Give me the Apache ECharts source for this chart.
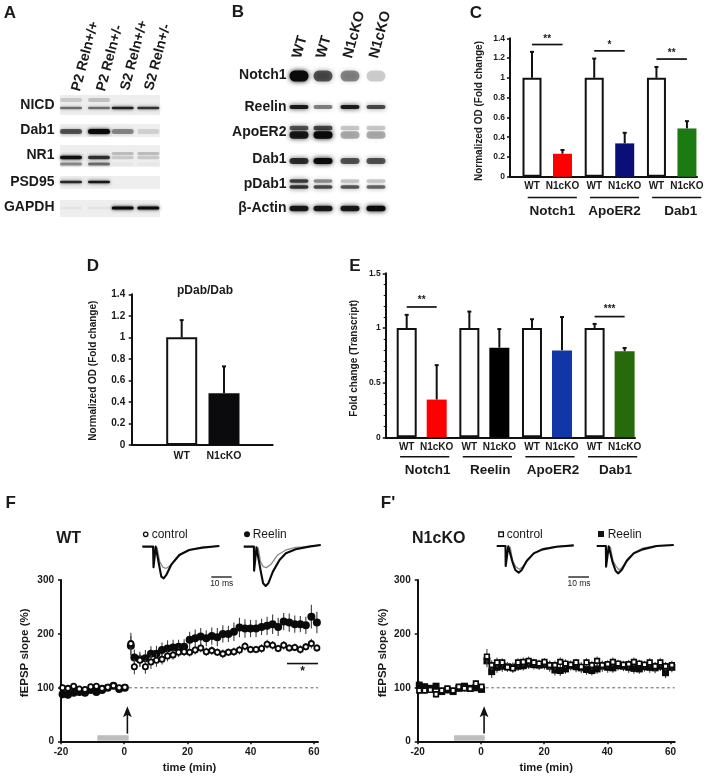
<!DOCTYPE html>
<html><head><meta charset="utf-8">
<style>html,body{margin:0;padding:0;background:#fff}#c{width:708px;height:778px}</style>
<script src="https://cdn.jsdelivr.net/npm/echarts@6/dist/echarts.min.js"></script>
</head><body><div id="c"></div>
<script>
// ---------- values ----------
const wtKo = ['WT','N1cKO'];
// Panel C
const cGroups = ['Notch1','ApoER2','Dab1'];
const cValues = [1,0.232,1,0.337,1,0.488];
const cErrTop = [1.263,0.27,1.195,0.444,1.11,0.562];
const cColors = ['#fff','#ff0000','#fff','#0a0f78','#fff','#1c7a12'];
const cSig = [[0,1.337,'**'],[1,1.273,'*'],[2,1.19,'**']];
// Panel D
const dCats = ['WT','N1cKO'];
const dValues = [1,0.48];
const dErrTop = [1.16,0.73];
const dColors = ['#fff','#0b0b0d'];
// Panel E
const eGroups = ['Notch1','Reelin','ApoER2','Dab1'];
const eValues = [1,0.345,1,0.82,1,0.795,1,0.787];
const eErrTop = [1.12,0.66,1.15,0.99,1.08,1.10,1.037,0.817];
const eColors = ['#fff','#ff0000','#fff','#000','#fff','#1036a8','#fff','#266a0c'];
const eSig = [[0,1.192,'**'],[3,1.104,'***']];
// Panels F, F' : time
const fPreT = [-19.5,-17.8,-16,-14.2,-12.4,-10.6,-8.8,-7,-5.2,-3.4,-1.6,0.2];
const fPostT = [2.1,3.2,4.95,6.7,8.45,10.2,11.95,13.7,15.45,17.2,18.95,20.7,22.45,24.2,25.95,27.7,29.45,31.2,32.95,34.7,36.45,38.2,39.95,41.7,43.45,45.2,46.95,48.7,50.45,52.2,53.95,55.7,57.45,59.2,60.95];
const wtOpen = [100,99,103,98,97,102,103,99,101,104,100,101, 182,139,151,139,148,151,153,159,161,166,167,166,170,174,167,169,166,163,166,167,170,177,171,171,173,181,179,173,179,174,175,171,176,182,174];
const wtOpenErr = [6,5,5,5,6,5,5,5,6,6,5,5, 20,14,12,13,13,12,10,10,9,9,8,8,8,8,8,8,7,8,7,8,8,8,7,7,8,8,8,7,8,7,7,8,7,9,7];
const wtFilled = [88,87,91,92,91,96,92,96,100,104,98,100, 178,156,153,155,163,163,170,173,175,176,176,189,192,195,192,196,194,200,200,204,212,210,210,210,213,215,218,213,223,221,218,218,216,232,221];
const wtFilledErr = [7,7,6,6,6,5,6,5,6,5,6,5, 18,15,14,15,14,15,14,15,14,13,14,15,16,16,15,16,17,16,15,17,18,17,16,16,15,17,18,17,16,17,16,15,16,22,20];
const koOpenT = [1.9,3.4,5.1,6.75,8.4,10.1,11.75,13.4,15.1,16.75,18.4,20.1,21.75,23.4,25.1,26.75,28.4,30.1,31.75,33.4,35.1,36.75,38.4,40.1,41.75,43.4,45.1,46.75,48.4,50.1,51.75,53.4,55.1,56.75,58.4,60.4];
const koOpen = [95,95,96,88,95,99,95,102,99,98,108,102, 158,142,147,147,138,136,147,148,150,147,145,148,142,142,148,145,143,147,139,147,142,150,142,144,148,145,143,144,148,145,143,147,140,147,140,142];
const koOpenErr = [6,6,5,6,5,5,5,5,6,5,6,5, 14,9,9,8,8,8,8,8,8,7,7,7,8,8,8,8,7,7,8,8,8,8,8,7,8,7,7,8,8,7,7,8,8,8,8,8];
const koFilled = [105,102,99,103,93,96,93,99,103,99,100,97, 150,130,138,140,139,138,140,141,144,143,142,143,140,133,132,135,141,139,137,134,132,135,140,138,137,141,140,138,136,135,139,138,137,140,128,138];
const koFilledErr = [7,6,6,6,6,6,5,6,5,6,5,5, 12,12,10,10,9,9,9,9,9,9,9,9,10,10,10,9,9,10,10,10,9,9,10,10,9,9,9,10,10,9,9,10,10,9,10,9];
const xTicksF = [-20,0,20,40,60];
// Evoked traces (ms, mV-like units)
const fCtlBlack = [[0,0],[5.4,0],[5.6,-.62],[6.4,-.62],[6.7,0],[7.4,-.02],[8.4,-.55],[9.5,-.9],[10.7,-.95],[12,-.85],[14.4,-.55],[18.5,-.25],[23.4,-.1],[30,-.03],[38.5,.02]];
const fCtlGrey = [[7.4,-.02],[8.7,-.45],[10.3,-.62],[12,-.65],[14.4,-.55],[16.9,-.35],[20.2,-.2],[23.4,-.1],[30,-.02],[38.5,.02]];
const fReeBlack = [[0,0],[5.1,0],[5.2,-.72],[5.9,-.72],[6.4,-.02],[7.2,-.02],[8.4,-.7],[9.7,-1.1],[11,-1.18],[12.3,-1.1],[14.6,-.75],[17.9,-.4],[21.1,-.2],[26,-.08],[32.6,0],[38.5,.05]];
const fReeGrey = [[7.2,-.02],[8.4,-.45],[9.7,-.6],[11.4,-.63],[13.8,-.52],[17,-.25],[21.1,-.1],[26,-.02],[32.6,0],[38.5,.05]];
const kCtlBlack = [[0,0],[4.4,0],[4.5,-.6],[5.3,-.6],[5.8,-.01],[6.7,-.02],[8,-.5],[9.3,-.72],[11,-.8],[12.5,-.72],[15,-.45],[18.5,-.22],[23,-.1],[30,-.02],[38.5,.02]];
const kCtlGrey = [[6.7,-.02],[8,-.45],[9.5,-.62],[11.3,-.7],[13,-.62],[15.5,-.4],[19,-.2],[23,-.08],[30,-.01],[38.5,.02]];
const kReeBlack = [[0,0],[4.6,0],[4.7,-.62],[5.6,-.62],[6,-.01],[6.8,-.02],[8,-.5],[9.5,-.75],[10.8,-.82],[12.5,-.72],[15,-.45],[18.5,-.22],[23,-.1],[30,0],[38.5,.03]];
const kReeGrey = [[6.8,-.02],[8.2,-.45],[9.8,-.62],[11.3,-.72],[13,-.62],[15.5,-.38],[19,-.18],[23,-.06],[30,.01],[38.5,.03]];
// Blot A band darkness per lane
const aRows = ['NICD','Dab1','NR1','PSD95','GAPDH'];
const aLanes = ['P2 Reln+/+','P2 Reln+/-','S2 Reln+/+','S2 Reln+/-'];
const aNicd = [.5,.5,.85,.75];
const aNicdUp = [.15,.18,0,0];
const aDab1 = [.6,1,.4,.12];
const aNr1 = [.95,.75,.15,.15];
const aNr1Low = [.4,.5,.03,.03];
const aPsd = [.8,.9,0,0];
const aGapdh = [.04,.04,1,1];
// Blot B band darkness per lane
const bRows = ['Notch1','Reelin','ApoER2','Dab1','pDab1','β-Actin'];
const bLanes = ['WT','WT','N1cKO','N1cKO'];
const bNotch = [.95,.6,.42,.18];
const bReelin = [.85,.45,.85,.65];
const bApoUp = [.6,.65,.2,.2];
const bApoLow = [.85,.95,.3,.3];
const bDab1 = [.75,.95,.6,.6];
const bPdabUp = [.7,.4,.2,.2];
const bPdabLow = [.75,.65,.6,.55];
const bActin = [.85,.85,.85,.95];

// ---------- layout ----------
const FF = '"Liberation Sans", Arial, sans-serif';
const TXT = '#1a1a1a';
const aRowY = [105,130,155,182,207];
const bRowY = [75,107,132,159,184,208];
const aBands = [[aRowY[0],3,2.5,aNicd],[aRowY[0],-5,4,aNicdUp],[aRowY[1],1.5,5,aDab1],[aRowY[2],2.5,3.5,aNr1],[aRowY[2],9,3,aNr1Low],[aRowY[2],-1.5,3,aNr1.map(v=>v<.3?.2:0)],[aRowY[3],0,2.5,aPsd],[aRowY[4],1,3,aGapdh]];
const aBack = [[95,115],[124,137],[145,167],[176,189],[200,217]];
const bBands = [[bRowY[0],1,11,bNotch],[bRowY[1],0,4,bReelin],[bRowY[2],-4,4.5,bApoUp],[bRowY[2],3,7.5,bApoLow],[bRowY[3],2,6,bDab1],[bRowY[4],-3,3.5,bPdabUp],[bRowY[4],3,3.5,bPdabLow],[bRowY[5],0.5,5.5,bActin]];

const grids = [
 {left:510,top:38.3,width:187,height:138.4},   // C
 {left:131.7,top:294.3,width:141,height:150.7},// D
 {left:385.7,top:273.3,width:249.3,height:164},// E
 {left:61,top:580,width:257,height:161.7},     // F
 {left:417.7,top:580,width:257,height:161.7},  // F'
 {left:60,top:90,width:100,height:130},        // blot A
 {left:288,top:60,width:100,height:160},       // blot B
 {left:142.3,top:543.3,width:78.3,height:53.3},// inset
 {left:243.7,top:543.3,width:78.3,height:53.3},
 {left:496.7,top:542.7,width:78.3,height:53.3},
 {left:596.7,top:542.7,width:78.3,height:53.3},
];
const AX = {color:'#111',width:2};
const pitchC = 30.5, pitchE = 30, pitchD = 42.3;
const cX = i => Math.floor(i/2)*2.04 + i%2;
const eX = i => Math.floor(i/2)*2.088 + i%2;
const cTicks = cValues.map((_,i)=>cX(i));
const eTicks = eValues.map((_,i)=>eX(i));

function barXAxis(g,min,max,ticks,names,fs,margin){
  return {gridIndex:g,type:'value',min,max,
    axisLine:{onZero:false,lineStyle:AX},axisTick:{show:false},splitLine:{show:false},
    axisLabel:{customValues:ticks,formatter:v=>names[ticks.indexOf(v)],fontSize:fs,fontWeight:'bold',color:TXT,margin:margin,fontFamily:FF,hideOverlap:false}};
}
function barYAxis(g,max,interval,fs,name,pad,gap,extra,margin){
  return Object.assign({gridIndex:g,type:'value',min:0,max,interval,
    name,nameLocation:'middle',nameGap:gap,nameRotate:90,
    nameTextStyle:{fontSize:10,fontWeight:'bold',color:TXT,padding:pad,fontFamily:FF},
    axisLine:{show:true,onZero:false,lineStyle:AX},axisTick:{show:true,length:3,lineStyle:{color:'#111',width:1.5}},splitLine:{show:false},
    axisLabel:{fontSize:fs,fontWeight:'bold',color:TXT,margin:margin,fontFamily:FF,formatter:v=>String(v)}},extra||{});
}
function fX(g,name){
  return {gridIndex:g,type:'value',min:-20,max:61.3,name,nameLocation:'middle',nameGap:21,
    nameTextStyle:{fontSize:11.2,fontWeight:'bold',color:TXT,fontFamily:FF},
    axisLine:{onZero:false,lineStyle:AX},axisTick:{show:true,customValues:xTicksF,length:2.5,lineStyle:{color:'#111',width:1.5}},splitLine:{show:false},
    axisLabel:{customValues:xTicksF,fontSize:10,fontWeight:'bold',color:TXT,margin:6,fontFamily:FF}};
}
function fY(g,gap){
  return {gridIndex:g,type:'value',min:0,max:300,interval:100,name:'fEPSP slope (%)',nameLocation:'middle',nameGap:gap,nameRotate:90,
    nameTextStyle:{fontSize:11.5,fontWeight:'bold',color:TXT,padding:[0,0,0,16],fontFamily:FF},
    axisLine:{show:true,onZero:false,lineStyle:AX},axisTick:{show:true,length:3,lineStyle:{color:'#111',width:1.5}},splitLine:{show:false},
    axisLabel:{fontSize:10,fontWeight:'bold',color:TXT,margin:7,fontFamily:FF}};
}
function hidden(g,min,max,inverse){return {gridIndex:g,type:'value',min,max,inverse:!!inverse,show:false,splitLine:{show:false}};}
function blotY(g,rowY,names,h,margin){
  return {gridIndex:g,type:'value',min:grids[g].top,max:grids[g].top+h,inverse:true,
    axisLine:{show:false,onZero:false},axisTick:{show:false},splitLine:{show:false},
    axisLabel:{customValues:rowY,formatter:v=>names[rowY.indexOf(v)],fontSize:14,fontWeight:'bold',color:TXT,margin,fontFamily:FF}};
}

const xAxes = [
  barXAxis(0,(510-532)/pitchC,(697-532)/pitchC,cTicks,cValues.map((_,i)=>wtKo[i%2]),10,5),
  barXAxis(1,(131.7-181.7)/pitchD,(272.7-181.7)/pitchD,[0,1],dCats,10.5,6),
  barXAxis(2,(385.7-406.7)/pitchE,(635-406.7)/pitchE,eTicks,eValues.map((_,i)=>wtKo[i%2]),10,4.5),
  fX(3,'time (min)'),fX(4,'time (min)'),
  hidden(5,60,160),hidden(6,288,388),
  hidden(7,0,39.15),hidden(8,0,39.15),hidden(9,0,39.15),hidden(10,0,39.15)
];
const yAxes = [
  barYAxis(0,1.4,0.2,8.5,'Normalized OD (Fold change)',[0,7,0,0],26,null,5),
  barYAxis(1,1.4,0.2,10,'Normalized OD (Fold change)',[0,2,0,0],33,null,6.5),
  barYAxis(2,1.5,0.5,8.5,'Fold change (Transcript)',[0,6,0,0],26,{minorTick:{show:true,splitNumber:5,length:2,lineStyle:{color:'#111',width:1}}},5),
  fY(3,30),fY(4,29),
  blotY(5,aRowY,aRows,130,5.5),
  blotY(6,bRowY,bRows,160,1.5),
  hidden(7,-1.5,0.1),hidden(8,-1.5,0.1),hidden(9,-1.5,0.1),hidden(10,-1.5,0.1)
];

// ---------- series helpers ----------
function bars(g,xs,vals,cols,w){
  return {type:'bar',xAxisIndex:g,yAxisIndex:g,barWidth:w,z:2,silent:true,
    data:vals.map((v,i)=>({value:[xs[i],v],itemStyle:{color:cols[i],borderColor:cols[i]==='#fff'?'#111':cols[i],borderWidth:cols[i]==='#fff'?2:0}}))};
}
function errTops(g,xs,vals,tops){
  return {type:'custom',xAxisIndex:g,yAxisIndex:g,z:1,silent:true,clip:false,
    data:vals.map((v,i)=>[xs[i],v,tops[i]]),
    renderItem(p,api){
      const a=api.coord([api.value(0),api.value(1)]),b=api.coord([api.value(0),api.value(2)]);
      const st={stroke:'#111',lineWidth:2};
      return {type:'group',children:[
        {type:'line',shape:{x1:a[0],y1:a[1],x2:b[0],y2:b[1]},style:st},
        {type:'line',shape:{x1:b[0]-2,y1:b[1],x2:b[0]+2,y2:b[1]},style:st}]};
    }};
}
// rows: [x0,x1,y,text,textDy,lineOpts,fontSize,textDx]
function rules(g,rows,z){
  return {type:'custom',xAxisIndex:g,yAxisIndex:g,z:z||5,silent:true,clip:false,
    data:rows.map(r=>[r[0],r[2]]),
    renderItem(p,api){
      const r=rows[p.dataIndex];
      const a=api.coord([r[0],r[2]]),b=api.coord([r[1],r[2]]);
      const ch=[{type:'line',shape:{x1:a[0],y1:a[1],x2:b[0],y2:b[1]},style:Object.assign({stroke:'#111',lineWidth:1.7},r[5]||{})}];
      if(r[3]) ch.push({type:'text',style:{text:r[3],x:(a[0]+b[0])/2+(r[7]||0),y:a[1]+r[4],align:'center',verticalAlign:'middle',fill:TXT,fontFamily:FF,fontWeight:'bold',fontSize:(r[6]||10)}});
      return {type:'group',children:ch};
    }};
}
function timeScatter(g,ts,vals,symbol,size,fill,z,bw){
  return {type:'scatter',xAxisIndex:g,yAxisIndex:g,symbol,symbolSize:size,z,silent:true,clip:false,
    itemStyle:{color:fill,borderColor:'#0a0a0a',borderWidth:bw,opacity:1},
    data:vals.map((v,i)=>[ts[i],v])};
}
function timeErr(g,ts,vals,errs,z,col){
  return {type:'custom',xAxisIndex:g,yAxisIndex:g,z,silent:true,clip:false,
    data:vals.map((v,i)=>[ts[i],v-errs[i],v+errs[i]]),
    renderItem(p,api){
      const a=api.coord([api.value(0),api.value(1)]),b=api.coord([api.value(0),api.value(2)]);
      return {type:'line',shape:{x1:a[0],y1:a[1],x2:b[0],y2:b[1]},style:{stroke:col,lineWidth:1.1}};
    }};
}
function stimArrow(g,barFrom,barTo,barTop,arrowT,arrowFrom,arrowTo){
  return {type:'custom',xAxisIndex:g,yAxisIndex:g,z:4,silent:true,clip:false,data:[[arrowT,arrowFrom]],
    renderItem(p,api){
      const a=api.coord([barFrom,barTop]),b=api.coord([barTo,0]);
      const s=api.coord([arrowT,arrowFrom]),t=api.coord([arrowT,arrowTo]);
      return {type:'group',children:[
        {type:'rect',shape:{x:a[0],y:a[1],width:b[0]-a[0],height:b[1]-a[1]-1},style:{fill:'#bdbdbd'}},
        {type:'line',shape:{x1:s[0],y1:s[1],x2:t[0],y2:t[1]+6},style:{stroke:'#111',lineWidth:1.6}},
        {type:'polygon',shape:{points:[[t[0],t[1]],[t[0]+4.4,t[1]+11],[t[0],t[1]+8.5],[t[0]-4.4,t[1]+11]]},style:{fill:'#111'}}]};
    }};
}
function blot(g,lanesX,bands,backs,laneW,blur,gain){
  const items=[];
  (backs||[]).forEach(b=>items.push({y0:b[0],y1:b[1]}));
  bands.forEach(b=>b[3].forEach((s,i)=>{ if(s>0) items.push({lane:lanesX[i],y:b[0]+b[1],h:b[2],s}); }));
  return {type:'custom',xAxisIndex:g,yAxisIndex:g,z:2,silent:true,clip:false,
    data:items.map(it=>[it.lane||60,it.y||it.y0]),
    renderItem(p,api){
      const it=items[p.dataIndex];
      if(it.y0!==undefined){
        const a=api.coord([60,it.y0]),b=api.coord([160,it.y1]);
        return {type:'rect',z2:0,shape:{x:a[0],y:a[1],width:b[0]-a[0],height:b[1]-a[1]},style:{fill:'#eeeeee'}};
      }
      const c=api.coord([it.lane,it.y]);
      const alpha=Math.min(1,it.s*gain);
      return {type:'rect',z2:5,shape:{x:c[0]-laneW/2,y:c[1]-it.h/2,width:laneW,height:it.h,r:it.h/2},
        style:{fill:'rgba(10,10,10,'+alpha+')',shadowBlur:blur,shadowColor:'rgba(10,10,10,'+alpha+')'}};
    }};
}
function trace(g,data,col,w,z){
  return {type:'line',xAxisIndex:g,yAxisIndex:g,data,showSymbol:false,symbol:'none',silent:true,z,clip:false,
    lineStyle:{color:col,width:w,join:'round'}};
}

// ---------- series ----------
const groupLine = {lineWidth:1.5};
const series = [
  blot(5,[71,99,122.7,148.3],aBands,aBack,22,3.5,1),
  blot(6,[299,323,350,376],bBands,[],19,5,1.05),
  // C
  bars(0,cTicks,cValues,cColors,19), errTops(0,cTicks,cValues,cErrTop),
  rules(0,cSig.map(s=>[cX(s[0]*2),cX(s[0]*2+1),s[1],s[2],-5.5,null,10])
    .concat(cGroups.map((n,g)=>[cX(g*2)-0.14,cX(g*2)+1.47,-0.21,n,14,groupLine,13.5,g===2?4:0]))),
  // D
  bars(1,[0,1],dValues,dColors,31), errTops(1,[0,1],dValues,dErrTop),
  // E
  bars(2,eTicks,eValues,eColors,20), errTops(2,eTicks,eValues,eErrTop),
  rules(2,eSig.map(s=>[eX(s[0]*2),eX(s[0]*2+1),s[1],s[2],-7,null,10])
    .concat(eGroups.map((n,g)=>[eX(g*2)-0.22,eX(g*2)+1.42,-0.177,n,14,groupLine,13.5,3]))),
  // F
  stimArrow(3,-8.5,1.4,12,1,15,66),
  rules(3,[[1.5,61.3,100,'',0,{stroke:'#666',lineWidth:1,lineDash:[3,2.5]}],[51.5,61.3,145,'*',8,{lineWidth:1.6},12]],2),
  timeErr(3,fPreT.concat(fPostT),wtFilled,wtFilledErr,3,'#3a3f3a'),
  timeScatter(3,fPreT.concat(fPostT),wtFilled,'circle',8,'#0a0a0a',4,0),
  timeErr(3,fPreT.concat(fPostT),wtOpen,wtOpenErr,5,'#444'),
  timeScatter(3,fPreT.concat(fPostT),wtOpen,'circle',5.2,'#fff',6,1.8),
  // F'
  stimArrow(4,-8.5,1.2,12,1,15,66),
  rules(4,[[1.5,61.3,100,'',0,{stroke:'#666',lineWidth:1,lineDash:[3,2.5]}]],2),
  timeErr(4,fPreT.concat(koOpenT),koFilled,koFilledErr,3,'#3a3f3a'),
  timeScatter(4,fPreT.concat(koOpenT),koFilled,'rect',7,'#0a0a0a',4,0),
  timeErr(4,fPreT.concat(koOpenT),koOpen,koOpenErr,5,'#444'),
  timeScatter(4,fPreT.concat(koOpenT),koOpen,'rect',4.6,'#fff',6,1.7),
  // traces
  trace(7,fCtlGrey,'#8a8a8a',1.3,3),trace(7,fCtlBlack,'#0a0a0a',2.1,4),
  trace(8,fReeGrey,'#8a8a8a',1.3,3),trace(8,fReeBlack,'#0a0a0a',2.1,4),
  trace(9,kCtlGrey,'#8a8a8a',1.3,3),trace(9,kCtlBlack,'#0a0a0a',2.1,4),
  trace(10,kReeGrey,'#8a8a8a',1.3,3),trace(10,kReeBlack,'#0a0a0a',2.1,4),
];

// ---------- text / decoration ----------
const T=(text,x,y,size,opt)=>Object.assign({type:'text',x,y,silent:true,style:Object.assign({text,fontFamily:FF,fontSize:size,fontWeight:'bold',fill:TXT,align:'center',verticalAlign:'middle'},opt||{})},{});
function rotT(text,x,y,size,deg,style){
  return {type:'text',x,y,rotation:deg*Math.PI/180,silent:true,style:Object.assign({text,fontFamily:FF,fontSize:size,fontWeight:'bold',fill:TXT,align:'left',verticalAlign:'middle'},style||{})};
}
const line=(x1,x2,y)=>({type:'line',silent:true,shape:{x1,y1:y,x2,y2:y},style:{stroke:'#111',lineWidth:1.3}});
const graphics=[
  T('A',10,13,17),T('B',238,12,17),T('C',476,13,17),T('D',93,266,17),T('E',355,266,17),T('F',10.7,503,17),T("F'",388,503,17),
  T('pDab/Dab',205,291,12),
  T('WT',68.7,539,16),T('N1cKO',438.7,539,16),
  ...[[76,91],[101,91],[125,90],[149,90]].map((p,i)=>rotT(aLanes[i],p[0],p[1],14,75)),
  ...[[297,58],[321,58],[348,58],[374,58]].map((p,i)=>rotT(bLanes[i],p[0],p[1],14.5,75)),
  // legends
  {type:'circle',silent:true,shape:{cx:145.7,cy:534.3,r:2.2},style:{fill:'#fff',stroke:'#111',lineWidth:1.3}},
  T('control',151.7,534.3,12,{align:'left',fontWeight:'normal'}),
  {type:'circle',silent:true,shape:{cx:247,cy:534.3,r:3},style:{fill:'#111'}},
  T('Reelin',252.7,534.3,12,{align:'left',fontWeight:'normal'}),
  {type:'rect',silent:true,shape:{x:498.8,y:532,width:4.6,height:4.6},style:{fill:'#fff',stroke:'#111',lineWidth:1.3}},
  T('control',506.7,534.3,12,{align:'left',fontWeight:'normal'}),
  {type:'rect',silent:true,shape:{x:598,y:531,width:6,height:6},style:{fill:'#111'}},
  T('Reelin',607.7,534.3,12,{align:'left',fontWeight:'normal'}),
  // scale bars
  line(211.3,231.7,577),T('10 ms',221.7,583.5,8.5,{fontWeight:'normal'}),
  line(568.3,589,577),T('10 ms',579,583.5,8.5,{fontWeight:'normal'}),
];

const chart=echarts.init(document.getElementById('c'),null,{renderer:'canvas',width:708,height:778});
chart.setOption({
  animation:false,backgroundColor:'#fff',
  textStyle:{fontFamily:FF},
  grid:grids,xAxis:xAxes,yAxis:yAxes,series,graphic:{elements:graphics}
});
</script></body></html>
